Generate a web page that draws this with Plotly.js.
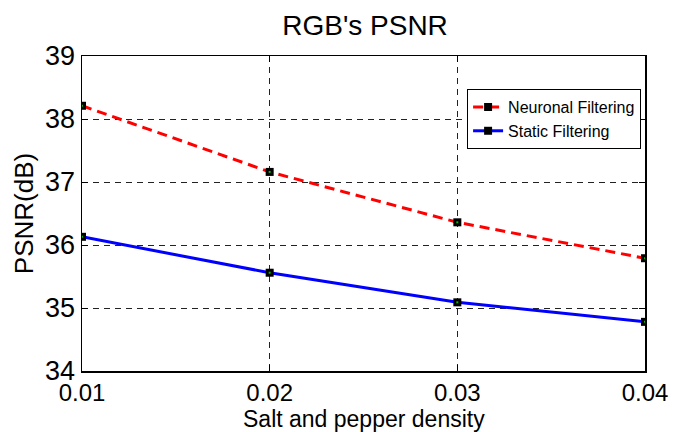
<!DOCTYPE html>
<html>
<head>
<script src="https://cdn.plot.ly/plotly-3.0.1.min.js"></script>
<style>body{margin:0;padding:0;background:#fff}</style>
</head>
<body>
<div id="chart" style="width:676px;height:432px"></div>
<script>
var density = [0.01, 0.02, 0.03, 0.04];
var neuronal = [38.21, 37.16, 36.36, 35.79];
var staticF = [36.13, 35.56, 35.09, 34.78];
var xTicks = [0.01, 0.02, 0.03, 0.04];
var xTickText = ['0.01', '0.02', '0.03', '0.04'];
var yTicks = [34, 35, 36, 37, 38, 39];
var xTitle = 'Salt and pepper density';

var font = 'Liberation Sans, Arial, sans-serif';
var traces = [
  {x: density, y: neuronal, name: 'Neuronal Filtering', mode: 'lines+markers',
   line: {color: '#ff0000', width: 3, dash: '10px,6px'},
   marker: {symbol: 'square', size: 8, color: '#000'}},
  {x: density, y: staticF, name: 'Static Filtering', mode: 'lines+markers',
   line: {color: '#0000ff', width: 3},
   marker: {symbol: 'square', size: 8, color: '#000'}},
  {x: density, y: neuronal, mode: 'markers', showlegend: false, hoverinfo: 'skip',
   marker: {symbol: 'square', size: 2, color: '#00c000'}},
  {x: density, y: staticF, mode: 'markers', showlegend: false, hoverinfo: 'skip',
   marker: {symbol: 'square', size: 2, color: '#00c000'}}
];
var axisCommon = {
  showline: true, mirror: 'ticks', linecolor: '#000', linewidth: 1.5,
  ticks: 'inside', ticklen: 6, tickcolor: '#000',
  showgrid: true, gridcolor: '#222', griddash: '6px,5px', gridwidth: 1,
  zeroline: false, tickfont: {family: font, size: 26, color: '#000'}
};
var layout = {
  width: 676, height: 432,
  margin: {l: 82, r: 31, t: 56, b: 61},
  paper_bgcolor: '#fff', plot_bgcolor: '#fff',
  title: {text: "RGB's PSNR", font: {family: font, size: 28, color: '#000'}, x: 0.54, xanchor: 'center', y: 0.942, yanchor: 'middle'},
  xaxis: Object.assign({}, axisCommon, {
    range: [0.01, 0.04], tickvals: xTicks, ticktext: xTickText,
    tickfont: {family: font, size: 24, color: '#000'}
  }),
  yaxis: Object.assign({}, axisCommon, {
    range: [34, 39], tickvals: yTicks, ticklabelstandoff: 0,
    tickfont: {family: font, size: 27, color: '#000'},
    title: {text: 'PSNR(dB)', font: {family: font, size: 26, color: '#000'}, standoff: 4}
  }),
  annotations: [{text: xTitle, xref: 'paper', yref: 'paper', x: 0.5, y: -0.108,
    xanchor: 'center', yanchor: 'top', showarrow: false,
    font: {family: font, size: 23, color: '#000'}, borderpad: 0}],
  legend: {x: 0.684, y: 0.895, xanchor: 'left', yanchor: 'top',
    bgcolor: '#fff', bordercolor: '#000', borderwidth: 1,
    font: {family: font, size: 16, color: '#000'}, tracegroupgap: 0, itemwidth: 30},
  showlegend: true
};
Plotly.newPlot('chart', traces, layout, {displayModeBar: false, staticPlot: true});
</script>
</body>
</html>
